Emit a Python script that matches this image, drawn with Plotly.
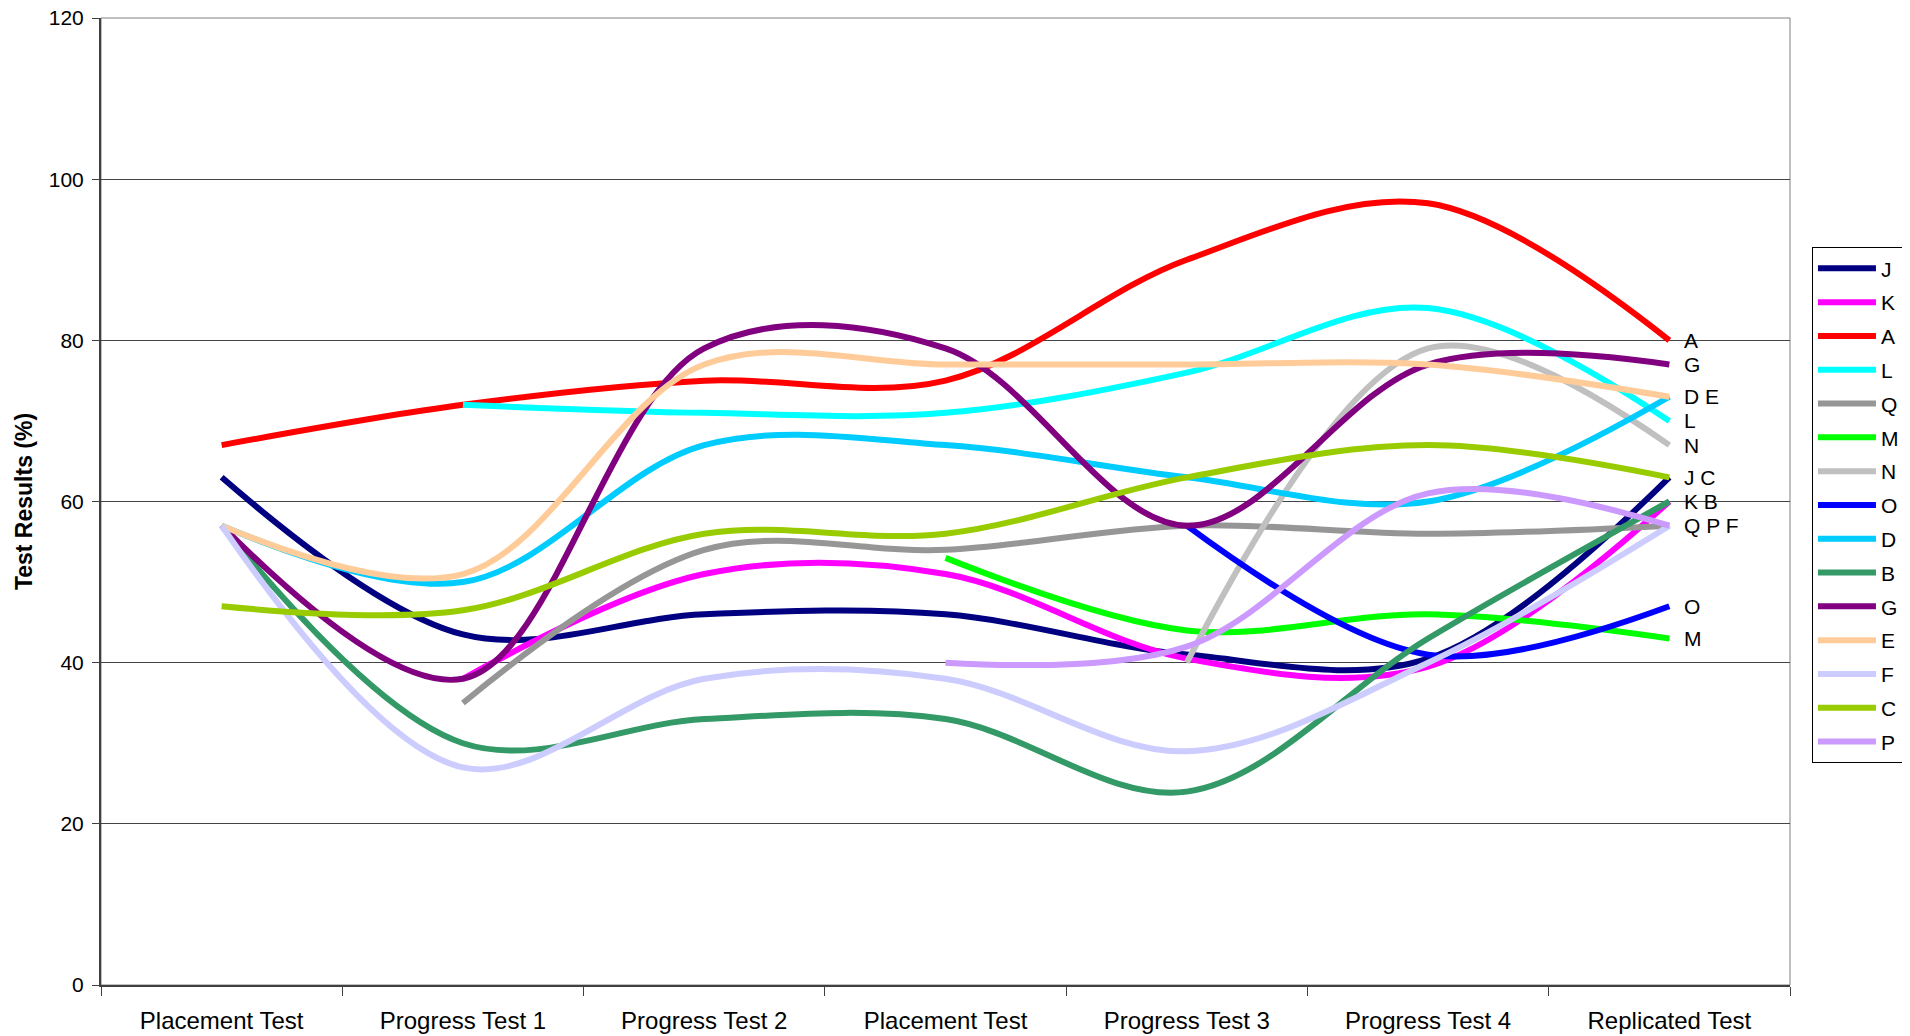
import plotly.graph_objects as go

# ---------------- data ----------------
categories = ["Placement Test", "Progress Test 1", "Progress Test 2", "Placement Test",
              "Progress Test 3", "Progress Test 4", "Replicated Test"]

series_names = ["J", "K", "A", "L", "Q", "M", "N", "O", "D", "B", "G", "E", "F", "C", "P"]

J = [63, 43.5, 46, 46, 41, 40.5, 63]
K = [None, 38, 51, 51, 40.5, 39.5, 60]
A = [67, 72, 75, 75, 90, 97, 80]
L = [None, 72, 71, 71, 76, 84, 70]
Q = [None, 35, 54, 54, 57, 56, 57]
M = [None, None, None, 53, 44, 46, 43]
N = [None, None, None, None, 40, 79, 67]
O = [None, None, None, None, 57, 41, 47]
D = [57, 50, 67, 67, 63, 60, 73]
B = [57, 30, 33, 33, 24, 43, 60]
G = [57, 38, 79, 79, 57, 77, 77]
E = [57, 51, 77, 77, 77, 77, 73]
F = [57, 27, 38, 38, 29, 40, 57]
C = [47, 46.5, 56, 56, 63, 67, 63]
P = [None, None, None, 40, 42, 61, 57]

series_values = [J, K, A, L, Q, M, N, O, D, B, G, E, F, C, P]

series_colors = ["#000080", "#FF00FF", "#FF0000", "#00FFFF", "#969696", "#00FF00",
                 "#C0C0C0", "#0000FF", "#00CCFF", "#339966", "#800080", "#FFCC99",
                 "#CCCCFF", "#99CC00", "#CC99FF"]

# end-of-line labels (series sharing the same final value are grouped)
label_groups = [["A"], ["G"], ["D", "E"], ["L"], ["N"], ["J", "C"], ["K", "B"],
                ["Q", "P", "F"], ["O"], ["M"]]

y_ticks = [0, 20, 40, 60, 80, 100, 120]
y_title = "Test Results (%)"

# ---------------- figure ----------------
FONT = "Arial, 'Liberation Sans', Helvetica, sans-serif"
xs = list(range(len(categories)))

fig = go.Figure()
for name, vals, col in zip(series_names, series_values, series_colors):
    fig.add_trace(go.Scatter(
        x=xs, y=vals, name=name, legendgroup=name, mode="lines",
        line=dict(color=col, width=6, shape="spline", smoothing=1.0),
        connectgaps=False,
    ))

lookup = dict(zip(series_names, series_values))
for grp in label_groups:
    fig.add_annotation(
        x=xs[-1], y=lookup[grp[0]][-1], text=" ".join(grp),
        xref="x", yref="y", xanchor="left", yanchor="middle", xshift=13,
        showarrow=False, font=dict(family=FONT, size=21, color="black"),
    )

# plot-area border
fig.add_shape(type="rect", xref="paper", yref="paper", x0=0, x1=1, y0=0, y1=1,
              line=dict(color="#808080", width=1), layer="below")

fig.update_layout(
    width=1910, height=1036,
    margin=dict(l=93, r=128, t=10, b=59.4, autoexpand=False),
    paper_bgcolor="white", plot_bgcolor="white",
    font=dict(family=FONT, color="black"),
    showlegend=True,
    legend=dict(
        x=1.013, y=0.763, xanchor="left", yanchor="top",
        bordercolor="black", borderwidth=1, bgcolor="white",
        font=dict(family=FONT, size=21, color="black"),
        tracegroupgap=3.5, traceorder="grouped", itemwidth=58,
    ),
    xaxis=dict(
        range=[-0.5, len(categories) - 0.5], tickmode="array", tickvals=xs,
        ticktext=categories, ticks="", showgrid=False, zeroline=False,
        showline=True, linecolor="#404040", linewidth=2,
        tickfont=dict(family=FONT, size=24, color="black"),
        ticklabelstandoff=13, automargin=False,
        minor=dict(tickmode="array", tickvals=[i - 0.5 for i in range(len(categories) + 1)],
                   ticks="outside", ticklen=9, tickcolor="#404040", tickwidth=1, showgrid=False),
    ),
    yaxis=dict(
        range=[0, 120], tickmode="array", tickvals=y_ticks,
        ticks="outside", ticklen=7, tickcolor="#404040", tickwidth=1,
        showgrid=True, gridcolor="#444444", gridwidth=1, zeroline=False,
        showline=True, linecolor="#404040", linewidth=2,
        tickfont=dict(family=FONT, size=21, color="black"),
        ticklabelstandoff=4, ticklabeloverflow="allow", automargin=False,
        title=dict(text="<b>" + y_title + "</b>", standoff=10,
                   font=dict(family=FONT, size=23, color="black")),
    ),
)

fig.write_html("out.html")
